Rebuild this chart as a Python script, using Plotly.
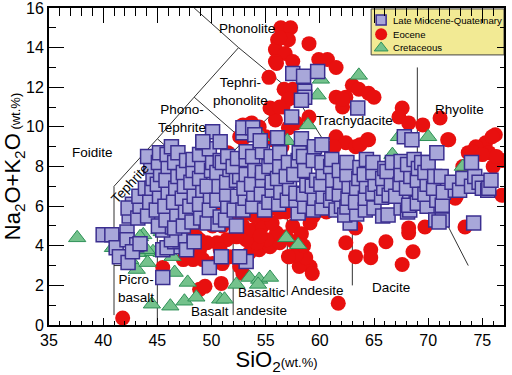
import plotly.graph_objects as go

# ---------------- data ----------------
late_miocene_quaternary = [
    (40.0,4.55),(40.8,4.55),(41.2,3.9),(41.5,3.45),(42.2,4.7),(42.2,4.3),(42.3,3.15),(43.1,4.05),(42.7,3.7),(43.4,4.1),
    (45.5,2.4),(45.5,3.8),(46.4,3.95),(45.9,3.9),(46.6,4.2),(47.7,4.05),(47.1,4.3),(47.7,3.8),(46.3,4.3),(45.5,4.8),
    (46.4,4.95),(45.0,5.55),(49.8,2.9),(50.9,3.45),(53.2,3.2),(52.6,3.45),(48.4,4.2),
    (42.4,5.5),(42.7,6.1),(42.3,5.9),
    (43.2,5.4),(43.4,6.0),(43.3,6.5),(43.9,6.9),
    (44.1,5.5),(44.3,6.2),(44.5,6.9),(44.6,7.4),(44.4,8.0),(44.1,8.5),
    (45.1,5.0),(44.9,5.8),(45.2,6.5),(45.0,7.1),(45.3,7.6),(45.1,8.2),(45.2,8.7),
    (45.8,5.3),(45.7,6.0),(46.0,6.7),(45.8,7.3),(46.0,8.0),(45.9,8.6),(46.3,9.0),
    (46.6,4.9),(46.8,5.6),(46.5,6.2),(46.7,6.9),(46.9,7.5),(46.6,8.2),(46.9,8.7),
    (47.4,5.0),(47.6,5.7),(47.3,6.4),(47.5,7.0),(47.4,7.7),(47.7,8.3),
    (48.2,5.2),(48.0,6.0),(48.4,6.5),(48.1,7.2),(48.3,7.8),(48.3,8.35),
    (49.0,5.4),(48.9,6.1),(49.2,6.8),(48.9,7.4),(49.1,8.0),(48.9,8.6),(49.2,9.2),
    (49.6,5.15),(49.8,5.8),(49.9,6.5),(49.6,7.0),(50.0,7.8),(50.1,8.2),(49.8,8.9),(50.1,9.75),
    (50.6,5.1),(50.8,5.45),(50.5,6.3),(50.7,7.0),(50.5,7.7),(50.8,8.3),(50.8,9.25),
    (51.3,5.3),(51.5,6.0),(51.4,6.6),(51.4,7.2),(51.7,7.85),(51.0,8.2),(51.5,8.5),
    (52.3,5.0),(52.1,5.8),(52.4,6.5),(52.3,7.3),(52.6,7.5),(52.0,8.0),(52.4,8.4),
    (52.9,5.8),(53.1,6.4),(53.0,6.9),(53.2,7.6),(53.2,8.35),(53.2,8.75),(52.9,9.7),(52.9,9.95),
    (53.8,6.0),(53.9,6.6),(53.7,7.1),(54.0,7.8),(53.8,8.5),(53.8,9.95),(54.0,9.6),
    (54.9,5.8),(54.6,6.6),(54.7,7.3),(54.7,7.7),(54.7,8.75),(54.5,9.3),
    (55.3,6.2),(55.6,6.8),(55.6,7.2),(55.3,8.0),(55.5,8.5),
    (56.2,6.1),(56.4,6.7),(56.1,7.4),(56.3,8.0),(56.3,8.7),(56.1,9.45),
    (57.0,6.3),(57.2,6.9),(56.9,7.5),(57.1,8.2),
    (58.0,5.65),(57.8,6.3),(57.8,6.65),(57.6,7.6),(58.0,8.3),(58.1,8.7),(58.3,9.4),
    (58.6,6.0),(58.5,6.6),(58.8,7.05),(58.6,7.8),(58.5,8.5),
    (59.4,5.8),(59.5,6.4),(59.3,7.0),(59.7,7.3),(59.4,8.3),(59.5,9.0),(60.2,9.1),
    (60.2,5.9),(60.3,6.5),(60.1,7.1),(60.3,7.7),(60.2,8.2),
    (61.5,5.9),(61.0,6.3),(61.2,6.65),(61.2,7.3),(61.0,8.0),(61.1,8.35),
    (61.5,5.8),(62.0,6.0),(61.8,6.6),(61.9,7.2),(61.8,7.8),
    (62.8,5.15),(62.3,5.55),(62.5,5.95),(62.6,6.4),(62.7,7.0),(62.5,7.6),(62.5,8.2),
    (63.4,5.6),(63.3,6.2),(63.4,6.9),(63.6,7.4),(63.7,7.95),
    (64.2,5.8),(64.2,6.4),(64.3,7.0),(64.1,7.6),(64.3,8.35),
    (65.0,5.9),(64.9,6.65),(65.1,7.1),(64.9,7.7),(64.9,8.2),
    (65.8,5.5),(65.7,6.45),(65.9,6.9),(65.8,7.4),(66.0,7.9),
    (66.3,5.55),(66.4,6.55),(66.6,7.1),(66.2,7.75),(66.7,8.2),
    (67.5,5.9),(67.6,6.55),(67.0,6.5),(67.4,7.1),(67.5,7.6),(67.5,8.25),
    (68.1,5.7),(68.3,5.8),(68.2,6.05),(68.0,6.9),(68.4,7.5),(68.1,8.1),(68.7,8.35),
    (69.0,6.15),(69.2,6.7),(69.0,7.3),(69.1,7.9),(69.4,8.2),
    (69.9,6.0),(69.7,6.6),(69.9,7.1),(69.7,7.7),(70.0,8.2),
    (70.7,5.3),(70.8,6.3),(70.5,6.9),(70.6,7.5),(70.8,8.7),
    (71.3,5.3),(71.3,6.05),(71.4,6.7),(71.2,7.5),
    (72.5,6.8),(72.2,7.2),(72.9,6.8),(73.2,7.4),
    (74.2,5.15),(74.0,7.0),(74.3,7.5),(74.0,8.2),
    (74.7,7.2),(75.0,6.9),(75.5,6.8),(75.6,6.9),(75.8,7.3),
    (57.5,12.7),(58.5,12.55),(59.8,12.8),(58.6,11.8),(58.6,11.5),(58.3,11.35),(63.5,10.95),
    (57.4,10.5),(67.8,9.5),(68.5,9.35),(49.2,9.25),(71.0,5.2),
]

eocene = [
    (56.4,15.0),(57.3,15.0),(56.1,14.4),(57.1,14.4),(59.0,14.2),(55.9,13.9),(56.8,13.7),(55.9,13.3),
    (57.5,13.3),(59.9,13.4),(60.7,13.4),(55.3,12.5),(56.7,11.9),(57.5,11.9),(61.5,11.5),(62.4,11.5),
    (63.0,12.1),(63.6,11.9),(64.5,11.7),(65.0,11.5),(62.1,11.0),(55.6,10.9),(56.6,11.0),(57.1,11.4),
    (58.0,11.4),(59.0,10.5),(57.1,9.95),(57.8,10.2),(55.9,10.35),(54.4,10.0),(55.0,9.5),(61.5,9.5),
    (62.4,9.2),(63.3,9.0),(64.5,9.35),(61.3,9.0),(67.6,10.95),(67.3,10.5),(68.2,10.2),(69.5,10.1),
    (71.1,10.45),(71.9,9.35),(76.2,9.6),(75.3,9.2),(74.4,9.0),(73.7,8.7),(75.6,8.7),(76.8,8.3),
    (76.0,8.0),(61.5,13.0),(62.1,11.4),(56.3,14.5),(56.0,13.2),(55.4,10.95),(56.3,11.0),(52.9,10.1),
    (53.7,10.2),(63.7,9.1),(64.4,9.35),(71.8,9.35),(73.2,8.0),(74.1,8.75),(75.0,8.6),(76.3,8.5),
    (75.9,9.5),(52.6,9.5),(55.6,9.35),(51.5,8.7),(52.9,9.4),(53.8,10.1),(52.9,8.2),(53.8,7.35),
    (51.4,6.7),(53.2,6.2),(50.8,6.0),(50.5,6.5),
    (76.8,6.55),(72.6,6.5),(72.5,6.4),(73.4,4.95),(69.7,4.95),(68.2,4.9),(68.2,4.65),(68.6,3.7),
    (67.6,3.05),(66.1,4.2),(64.7,3.8),(64.7,3.4),(63.3,3.45),(62.4,4.15),(63.3,4.9),(61.7,1.1),
    (60.9,6.3),(60.6,5.7),
    (51.7,3.45),(52.6,3.3),(53.5,3.65),(54.4,3.8),(55.4,3.95),(56.3,4.15),(56.9,4.45),(56.0,4.65),
    (55.1,4.3),(54.2,4.15),(53.2,4.3),(52.3,4.45),(51.4,4.3),(50.5,4.15),(48.6,4.45),(48.9,3.8),
    (50.8,3.8),(52.6,2.95),(52.9,2.6),(57.2,3.45),(57.9,3.55),(58.4,3.3),(59.1,2.95),(59.3,2.6),
    (58.1,2.95),(50.1,5.0),(51.0,5.0),(52.0,5.15),(52.9,5.0),(53.8,4.8),(54.7,5.0),(55.6,5.15),
    (56.3,5.7),(56.9,5.7),(59.1,5.15),(59.3,5.55),(59.0,5.9),(59.4,5.5),(58.7,3.4),(57.8,3.55),
    (57.1,3.45),(47.4,3.3),(48.3,3.3),(49.2,3.3),(50.1,3.1),(51.0,3.1),(49.6,4.15),(48.0,3.8),
    (48.9,4.3),(45.5,2.9),(48.9,1.8),(49.4,1.95),(50.9,2.1),(41.8,0.35),(42.2,3.45),(54.0,5.5),
    (55.0,5.6),(57.5,5.0),(58.3,4.6),(57.6,4.2),(58.5,4.0),(53.0,5.6),(51.6,5.7),(50.5,5.6),
    (49.5,5.4),(48.3,5.0),(47.6,4.7),(54.5,4.5),(57.2,6.2),(58.0,6.5),(56.0,6.8),(55.5,7.6),
    (57.0,8.0),(56.5,9.0),(58.6,7.9),(59.5,7.2),(60.3,6.9),
]

cretaceous = [
    (37.6,4.4),(40.9,3.9),(43.1,2.8),(43.7,4.55),(43.4,3.65),(44.1,3.15),(44.6,3.7),(45.4,4.7),
    (44.5,1.05),(46.2,0.95),(46.6,2.65),(47.8,2.15),(47.5,1.2),(48.6,1.4),(50.8,1.3),(51.2,1.3),
    (52.3,2.05),(46.4,3.45),(45.2,4.8),(53.5,2.4),(54.4,2.3),(55.4,2.4),(54.3,2.05),(58.0,4.05),
    (56.9,4.4),(43.4,4.45),(45.2,5.3),(43.7,3.8),(42.5,3.3),(44.0,3.8),(45.4,3.65),
    (63.6,12.6),(60.1,12.4),(59.8,11.6),(58.9,10.1),(57.0,9.3),(54.6,9.5),(70.0,9.5),(67.3,9.5),
    (73.2,8.0),(66.7,8.6),
]

series_names = ["Late Miocene-Quaternary", "Eocene", "Cretaceous"]

# TAS field boundaries (Le Bas et al.), as polylines
tas_lines = [
    [(41,0.5),(41,7)],
    [(41,7),(45,9.4),(48.4,11.5),(52.5,14),(48.4,16)],
    [(45,0),(45,5)],
    [(41,3),(45,3)],
    [(45,5),(49.4,7.3),(53,9.3),(57.6,11.7)],
    [(45,9.4),(49.4,7.3),(52,5)],
    [(48.4,11.5),(53,9.3),(57,5.9)],
    [(52.5,14),(57.6,11.7),(63,7)],
    [(45,5),(52,5),(57,5.9),(63,7),(69,8)],
    [(52,0.5),(52,5)],
    [(57,1.5),(57,5.9)],
    [(63,2),(63,7)],
    [(69,8),(73.7,3.0)],
    [(69,8),(69,13)],
]

field_labels = [
    ("Phonolite", 53.3, 14.95, 0),
    ("Tephri-<br>phonolite", 52.7, 11.8, 0),
    ("Phono-<br>Tephrite", 47.3, 10.4, 0),
    ("Foidite", 39.0, 8.7, 0),
    ("Tephrite", 42.5, 7.15, -47),
    ("Picro-<br>basalt", 43.0, 1.85, 0),
    ("Basalt", 49.9, 0.7, 0),
    ("Basaltic<br>andesite", 54.6, 1.2, 0),
    ("Andesite", 59.8, 1.75, 0),
    ("Dacite", 66.6, 1.9, 0),
    ("Trachydacite", 63.2, 10.3, 0),
    ("Rhyolite", 72.9, 10.9, 0),
]

NB = "\u00a0"
x_title = "SiO<sub>2</sub><span style='font-size:13px'>(wt.%)</span>" + NB * 2
y_title = NB * 5 + "Na<sub>2</sub>O+K<sub>2</sub>O<span style='font-size:13px'> (wt.%)</span>"
x_ticks = [35, 40, 45, 50, 55, 60, 65, 70, 75]
y_ticks = [0, 2, 4, 6, 8, 10, 12, 14, 16]

# ---------------- styles ----------------
FONT = "Liberation Sans, Arial, sans-serif"
SQ = dict(symbol="square", color="#a8a7d9", line=dict(width=1.5, color="#3b2f90"))
CI = dict(symbol="circle", color="#e8100f", line=dict(width=0))
TR = dict(symbol="triangle-up", color="#74c28c", line=dict(width=1, color="#2f9158"))

fig = go.Figure()

lx, ly = [], []
for seg in tas_lines:
    for px, py in seg:
        lx.append(px); ly.append(py)
    lx.append(None); ly.append(None)
fig.add_trace(go.Scatter(x=lx, y=ly, mode="lines", line=dict(color="#333333", width=1),
                         showlegend=False, hoverinfo="skip"))

fig.add_trace(go.Scatter(x=[p[0] for p in eocene], y=[p[1] for p in eocene], mode="markers",
                         name=series_names[1], marker=dict(size=15, **CI)))
fig.add_trace(go.Scatter(x=[p[0] for p in cretaceous], y=[p[1] for p in cretaceous], mode="markers",
                         name=series_names[2], marker=dict(size=15, **TR)))
fig.add_trace(go.Scatter(x=[p[0] for p in late_miocene_quaternary],
                         y=[p[1] for p in late_miocene_quaternary], mode="markers",
                         name=series_names[0], marker=dict(size=14, **SQ)))

# ---- key (legend box) drawn in plot-fraction coordinates on a hidden overlay axis ----
key_left, key_right, key_top, key_bottom = 0.708, 1.0, 0.997, 0.852
key_rows = [0.962, 0.917, 0.874]
key_sym_x = 0.730
key_txt_x = 0.752
fig.add_shape(type="rect", xref="paper", yref="paper", x0=key_left, x1=key_right,
              y0=key_bottom, y1=key_top, fillcolor="#f2ea94",
              line=dict(color="#444444", width=1), layer="below")
for style, size, row in ((SQ, 10, key_rows[0]), (CI, 12, key_rows[1]), (TR, 12, key_rows[2])):
    fig.add_trace(go.Scatter(x=[key_sym_x], y=[row], xaxis="x3", yaxis="y3", mode="markers",
                             marker=dict(size=size, **style), showlegend=False, hoverinfo="skip"))
for name, row in zip(series_names, key_rows):
    fig.add_annotation(xref="paper", yref="paper", x=key_txt_x, y=row, text=name,
                       showarrow=False, xanchor="left", yanchor="middle",
                       font=dict(family=FONT, size=9.6, color="black"))

# dummy trace so the top/right mirror axes exist
fig.add_trace(go.Scatter(x=[None], y=[None], xaxis="x2", yaxis="y2", showlegend=False, hoverinfo="skip"))

for text, tx, ty, ang in field_labels:
    fig.add_annotation(x=tx, y=ty, text=text, showarrow=False, textangle=ang,
                       font=dict(family=FONT, size=13.5, color="black"))

minor_common = dict(ticks="inside", tickcolor="black", tickwidth=1.2, showgrid=False)
fig.update_layout(
    width=512, height=375,
    margin=dict(l=49, r=8, t=8, b=49.5),
    paper_bgcolor="white", plot_bgcolor="white",
    font=dict(family=FONT, color="black"),
    showlegend=False,
    xaxis=dict(range=[35, 77], tickvals=x_ticks, ticks="inside", ticklen=7, tickwidth=1.3,
               tickcolor="black", showline=True, linewidth=2, linecolor="black", showgrid=False,
               zeroline=False, tickfont=dict(size=16, family=FONT), automargin=False,
               ticklabeloverflow="allow",
               minor=dict(dtick=1, ticklen=4, **minor_common),
               title=dict(text=x_title, font=dict(size=22, family=FONT), standoff=3)),
    yaxis=dict(range=[0, 16.0001], tickvals=y_ticks, ticks="inside", ticklen=15, tickwidth=1.3,
               tickcolor="black", showline=True, linewidth=2, linecolor="black", showgrid=False,
               zeroline=False, tickfont=dict(size=16, family=FONT), automargin=False,
               ticklabeloverflow="allow",
               minor=dict(dtick=1, ticklen=7, **minor_common),
               title=dict(text=y_title, font=dict(size=22, family=FONT), standoff=3)),
    xaxis2=dict(overlaying="x", side="top", range=[35, 77], tickvals=x_ticks, ticks="inside",
                ticklen=15, tickwidth=1.3, tickcolor="black", showticklabels=False, automargin=False,
                showline=True, linewidth=2, linecolor="black", showgrid=False, zeroline=False,
                minor=dict(dtick=1, ticklen=8, **minor_common)),
    yaxis2=dict(overlaying="y", side="right", range=[0, 16.0001], tickvals=y_ticks, ticks="inside",
                ticklen=7, tickwidth=1.3, tickcolor="black", showticklabels=False, automargin=False,
                showline=True, linewidth=2, linecolor="black", showgrid=False, zeroline=False,
                minor=dict(dtick=1, ticklen=4, **minor_common)),
    xaxis3=dict(overlaying="x", range=[0, 1], visible=False, automargin=False, fixedrange=True),
    yaxis3=dict(overlaying="y", range=[0, 1], visible=False, automargin=False, fixedrange=True),
)

fig.write_html("out.html", config={"displayModeBar": False},
               post_script="document.body.style.margin='0px';document.body.style.overflow='hidden';")
